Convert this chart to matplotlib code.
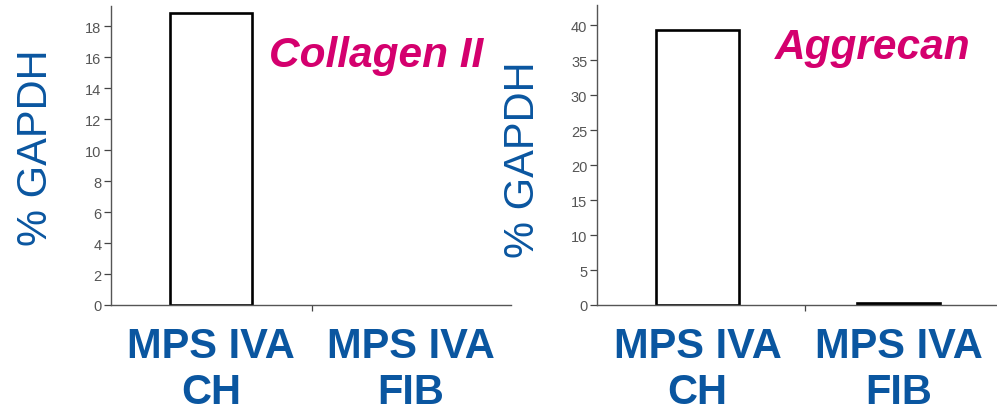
import matplotlib
matplotlib.use("Agg")
import matplotlib.pyplot as plt

categories = ["MPS IVA\nCH", "MPS IVA\nFIB"]
collagen_values = [18.85, 0.0]
aggrecan_values = [39.3, 0.3]
collagen_ticks = [0, 2, 4, 6, 8, 10, 12, 14, 16, 18]
aggrecan_ticks = [0, 5, 10, 15, 20, 25, 30, 35, 40]

BLUE = "#0a56a0"
MAGENTA = "#d4006e"
plt.rcParams['font.family'] = ['Liberation Sans', 'DejaVu Sans']

fig = plt.figure(figsize=(9.97, 4.14), dpi=100)

def panel(rect, values, ticks, ymax, title, title_xy, ylabel_xy, sep):
    ax = fig.add_axes(rect)
    x = list(range(len(categories)))
    edges = ["black" if v > 0 else "none" for v in values]
    ax.bar(x, values, width=0.41, facecolor="white", edgecolor=edges, linewidth=1.9)
    ax.set_xlim(-0.5, 1.5)
    ax.set_ylim(0, ymax)
    ax.set_yticks(ticks)
    ax.set_yticklabels([str(t) for t in ticks], color="#555555", fontsize=10.5)
    ax.set_xticks([sep])
    ax.set_xticklabels([""])
    ax.tick_params(axis="y", direction="out", length=5, width=0.9, color="#444444", pad=2)
    ax.tick_params(axis="x", direction="out", length=4, width=0.9, color="#444444")
    for s in ["top", "right"]:
        ax.spines[s].set_visible(False)
    for s in ["left", "bottom"]:
        ax.spines[s].set_color("#555555")
        ax.spines[s].set_linewidth(1.0)
    for xi, lab in zip(x, categories):
        ax.annotate(lab, xy=(xi, 0), xycoords=("data", "axes fraction"),
                    xytext=(0, -21), textcoords="offset pixels",
                    ha="center", va="top", fontsize=30, fontweight="bold",
                    color=BLUE, linespacing=1.2, annotation_clip=False)
    fig.text(title_xy[0], title_xy[1], title, color=MAGENTA, fontsize=30.5,
             fontweight="bold", fontstyle="italic", ha="center", va="baseline")
    fig.text(ylabel_xy[0], ylabel_xy[1], "% GAPDH", color=BLUE, fontsize=30,
             rotation=90, ha="center", va="center")
    return ax

W, H = 997, 414
panel([111 / W, (H - 306) / H, 400 / W, 299 / H], collagen_values, collagen_ticks,
      19.3, "Collagen II", (376 / W, 1 - 67 / H), (36 / W, 1 - 148 / H), 0.505)
panel([597 / W, (H - 306) / H, 402 / W, 300 / H], aggrecan_values, aggrecan_ticks,
      42.86, "Aggrecan", (873 / W, 1 - 59 / H), (523 / W, 1 - 160 / H), 0.535)

fig.savefig("out.png", dpi=100)
